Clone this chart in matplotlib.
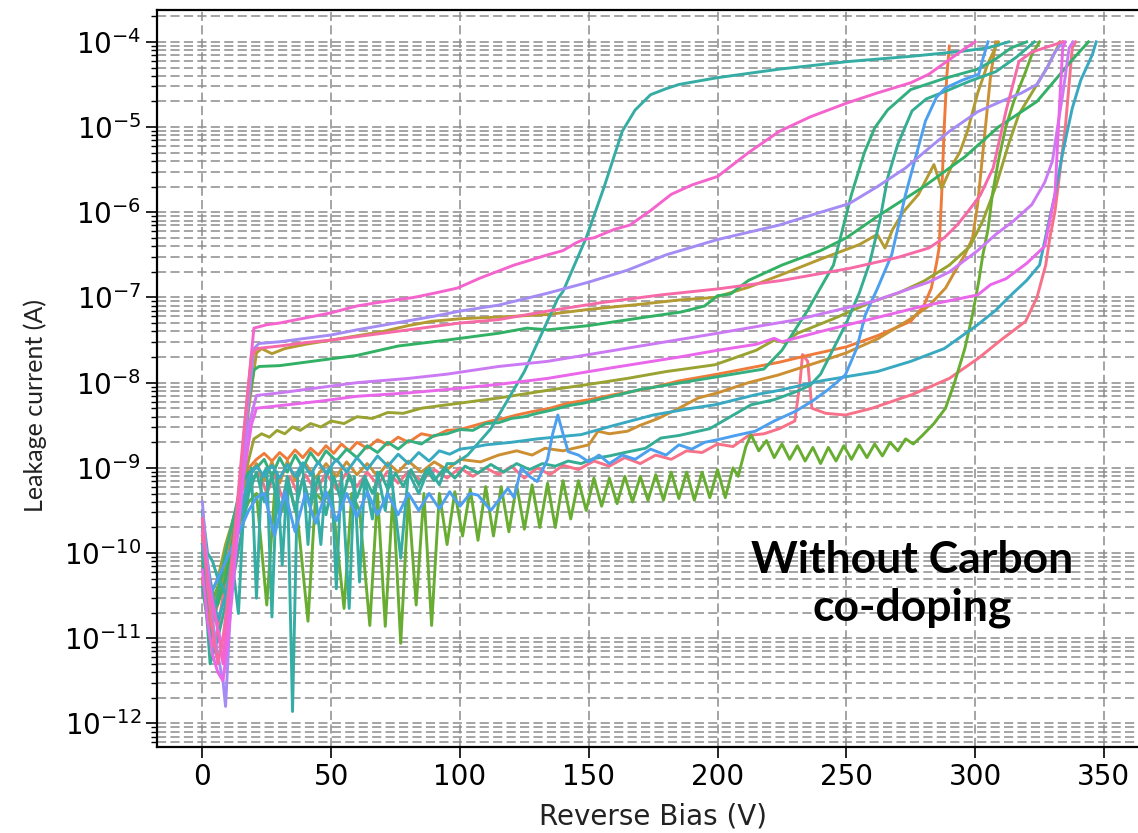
import numpy as np
import matplotlib
matplotlib.use("Agg")
import matplotlib.pyplot as plt
from matplotlib.ticker import LogLocator, NullFormatter, FixedLocator, LogFormatterSciNotation

# ---------------- data: reverse bias (V) and log10 of leakage current (A) ----------------
pinkred_V = [0, 2, 4, 6, 8, 10, 13, 16, 19, 22, 25, 28, 31, 34, 37, 40, 44, 48, 52, 56, 60, 64, 68, 72, 76, 80,
             85, 90, 95, 100, 105, 110, 115, 120, 125, 130, 135, 140, 146, 152, 158, 164, 170, 176, 182, 188,
             194, 200, 206, 212, 218, 224, 230, 232, 233, 235, 236.6, 242, 249.6, 260, 275.5, 290, 301.4, 310,
             319.6, 324, 327.4, 329, 331, 335, 337.7, 339]
pinkred_E = [-9.8, -10.6, -11.1, -10.9, -10.5, -10.2, -9.8, -9.4, -9.15, -9.05, -9.3, -9.08, -9.35, -9.1, -9.3,
             -9.08, -9.28, -9.06, -9.25, -9.05, -9.22, -9.05, -9.2, -9.04, -9.18, -9.04, -9.15, -9.02, -9.12, -9.0,
             -9.1, -9.0, -9.08, -8.98, -9.12, -9.0, -9.08, -8.97, -9.02, -8.92, -8.98, -8.88, -8.95, -8.85, -8.9,
             -8.8, -8.82, -8.72, -8.75, -8.62, -8.6, -8.54, -8.45, -8.0, -7.67, -7.75, -8.3, -8.36, -8.38, -8.3,
             -8.14, -7.95, -7.71, -7.5, -7.28, -7.0, -6.62, -6.3, -5.99, -5.01, -4.07, -4.0]

orange_V = [0, 3, 6, 9, 12, 15, 18, 21, 24, 27, 30, 33, 36, 39, 42, 45, 48, 51, 54, 57, 60, 64, 68, 72, 76, 80,
            85, 90, 95, 100, 106, 112, 117, 122, 128, 135, 142, 150, 160, 173, 185, 200, 212, 224, 235, 250, 262,
            275, 280, 283, 285, 286, 287, 288, 289, 290]
orange_E = [-10.3, -10.9, -10.6, -10.2, -9.7, -9.3, -9.0, -8.9, -8.83, -8.92, -8.82, -8.9, -8.79, -8.88, -8.77,
            -8.85, -8.74, -8.83, -8.72, -8.8, -8.7, -8.77, -8.67, -8.73, -8.64, -8.7, -8.6, -8.63, -8.56, -8.55,
            -8.5, -8.45, -8.42, -8.38, -8.34, -8.3, -8.24, -8.2, -8.14, -8.07, -7.98, -7.9, -7.83, -7.76, -7.68,
            -7.58, -7.45, -7.28, -7.1, -6.89, -6.6, -6.42, -5.8, -5.0, -4.4, -4.05]

gold_V = [0, 3, 6, 9, 12, 15, 18, 21, 24, 27, 30, 33, 36, 40, 44, 48, 52, 56, 60, 64, 68, 72, 76, 80, 85, 90,
          95, 100, 108, 115, 122, 128, 133, 140, 150, 153.6, 158, 165, 170, 177, 185, 192.5, 200, 212, 223.6,
          240, 250, 262.5, 275, 282, 288.5, 293, 296, 299, 301, 304, 306, 308]
gold_E = [-10.1, -10.8, -10.4, -10.0, -9.6, -9.3, -9.1, -8.95, -9.15, -8.93, -9.18, -8.92, -9.15, -8.95, -9.12,
          -8.95, -9.1, -8.93, -9.08, -8.95, -9.1, -8.94, -9.05, -8.92, -9.05, -8.93, -9.02, -8.9, -8.93, -8.85,
          -8.8, -8.85, -8.77, -8.8, -8.73, -8.57, -8.6, -8.57, -8.5, -8.42, -8.3, -8.18, -8.12, -8.0, -7.91,
          -7.75, -7.65, -7.48, -7.25, -7.1, -6.89, -6.65, -6.5, -6.3, -5.9, -5.0, -4.4, -4.0]

olive_V = [0, 3, 6, 9, 12, 15, 18, 21, 23, 27, 32, 40, 50, 60, 70, 80, 89, 100, 115, 134, 150, 170, 185, 199,
           212, 225, 240, 255, 262, 265, 268, 272, 278, 284, 287, 291, 294, 297, 301, 305, 309]
olive_E = [-9.8, -10.6, -10.5, -10.2, -9.8, -9.2, -8.3, -7.65, -7.6, -7.66, -7.6, -7.55, -7.5, -7.45, -7.4,
           -7.33, -7.28, -7.25, -7.23, -7.2, -7.14, -7.08, -7.03, -7.0, -6.88, -6.73, -6.55, -6.38, -6.26, -6.42,
           -6.2, -6.0, -5.79, -5.44, -5.72, -5.45, -5.3, -5.05, -4.6, -4.25, -4.0]

olivegreen_V = [0, 3, 6, 9, 12, 15, 18, 20, 23, 26, 29, 32, 35, 38, 42, 46, 50, 55, 60, 66, 72, 78, 85, 95, 105,
                115, 134, 150, 165, 180, 199, 215, 222, 226, 231, 245, 260, 270, 280, 290, 298, 303, 308, 313,
                317, 322, 328, 333]
olivegreen_E = [-10.0, -10.5, -10.3, -9.9, -9.6, -9.3, -8.9, -8.66, -8.6, -8.64, -8.56, -8.6, -8.52, -8.56,
                -8.48, -8.52, -8.45, -8.48, -8.4, -8.42, -8.35, -8.36, -8.3, -8.26, -8.22, -8.18, -8.09, -8.02,
                -7.95, -7.87, -7.79, -7.62, -7.5, -7.53, -7.42, -7.25, -7.05, -6.95, -6.81, -6.62, -6.4, -6.1,
                -5.7, -5.2, -4.85, -4.6, -4.3, -4.0]

greenlow_V = [0, 3, 6, 9, 12, 15, 18, 21, 25, 28, 31, 34, 37, 41, 44, 47, 50, 55, 58, 61, 65, 68, 71, 74, 77,
              80, 83, 86, 89, 92, 95, 98, 101, 104, 107, 110, 113, 116, 119, 122, 125, 128, 131, 134, 137, 140,
              143, 146, 149, 152, 155, 158, 161, 164, 167, 170, 173, 176, 179, 182, 185, 188, 191, 194, 197, 200,
              203, 206, 208, 211, 213, 216, 219, 222, 225, 228, 231, 234, 237, 240, 243, 246, 249, 252, 255, 258,
              261, 264, 267, 270, 273, 276, 279.5, 284, 288.5, 292, 296, 299, 301.4, 303, 305, 306.7, 309, 311.8,
              315, 319.6, 322, 325]
greenlow_E = [-9.9, -10.6, -10.4, -10.2, -9.9, -9.6, -9.4, -9.3, -10.61, -9.3, -9.5, -9.25, -9.6, -10.8, -9.3,
              -9.4, -9.25, -10.65, -9.3, -9.5, -10.85, -9.3, -10.86, -9.3, -11.06, -9.35, -10.61, -9.3, -10.85,
              -9.3, -9.9, -9.28, -9.8, -9.25, -9.85, -9.22, -9.8, -9.22, -9.75, -9.2, -9.72, -9.2, -9.7, -9.18,
              -9.7, -9.15, -9.6, -9.15, -9.5, -9.12, -9.45, -9.12, -9.42, -9.1, -9.4, -9.1, -9.38, -9.08, -9.38,
              -9.05, -9.36, -9.05, -9.38, -9.05, -9.35, -9.02, -9.35, -9.0, -9.1, -8.75, -8.61, -8.8, -8.68,
              -8.88, -8.72, -8.9, -8.74, -8.92, -8.76, -8.95, -8.76, -8.92, -8.74, -8.9, -8.73, -8.88, -8.72,
              -8.86, -8.7, -8.8, -8.66, -8.72, -8.62, -8.48, -8.3, -8.0, -7.6, -7.2, -6.81, -6.5, -6.2, -5.79,
              -5.4, -5.01, -4.7, -4.35, -4.15, -4.0]

green_V = [0, 3, 6, 9, 12, 15, 18, 20, 22, 30, 40, 50, 60, 76, 95, 115, 126, 134, 150, 170, 186, 195, 200, 205,
           212, 225, 240, 250, 262, 280, 296, 309, 324, 331, 338, 344]
green_E = [-9.9, -10.7, -10.6, -10.3, -9.8, -9.1, -8.2, -7.85, -7.81, -7.8, -7.76, -7.72, -7.68, -7.57, -7.5,
           -7.42, -7.36, -7.38, -7.33, -7.24, -7.17, -7.1, -6.98, -6.96, -6.8, -6.62, -6.45, -6.3, -6.05, -5.7,
           -5.35, -5.0, -4.7, -4.45, -4.2, -4.0]

tealgreenA_V = [0, 3, 6, 9, 12, 15, 18, 21, 24, 27, 30, 33, 36, 39, 42, 45, 48, 52, 56, 60, 64, 68, 72, 76, 80,
                85, 90, 95, 100, 105, 110, 115, 120, 125, 130, 136, 142, 148, 155, 162, 170, 180, 190, 200, 210,
                218, 225, 235, 245, 252, 257, 261, 266, 275, 288, 301, 308, 314, 320]
tealgreenA_E = [-10.4, -11.0, -10.5, -10.0, -9.6, -9.2, -9.05, -9.0, -8.9, -9.1, -8.88, -9.05, -8.85, -9.0,
                -8.82, -8.95, -8.8, -8.92, -8.78, -8.88, -8.74, -8.82, -8.7, -8.78, -8.68, -8.72, -8.62, -8.6,
                -8.55, -8.56, -8.48, -8.47, -8.42, -8.4, -8.36, -8.32, -8.27, -8.24, -8.19, -8.14, -8.08, -8.03,
                -7.98, -7.93, -7.88, -7.84, -7.62, -7.15, -6.62, -5.79, -5.3, -5.01, -4.8, -4.56, -4.43, -4.32,
                -4.2, -4.07, -4.0]

tealgreenB_V = [0, 3, 6, 9, 12, 15, 18, 21, 24, 27, 30, 33, 36, 39, 42, 45, 48, 51, 54, 57, 60, 63, 66, 69, 72,
                75, 78, 81, 84, 87, 90, 94, 98, 102, 107, 112, 117, 122, 127, 132, 137, 142, 147, 152, 158, 164,
                172, 178, 185, 197, 205, 213, 222, 231, 236, 240, 245, 250, 255, 259, 263, 266, 270, 275.5, 281,
                288.5, 298, 308, 316, 323]
tealgreenB_E = [-10.0, -11.3, -11.0, -10.6, -10.3, -9.8, -9.3, -9.05, -9.4, -9.08, -9.6, -9.1, -9.5, -9.12,
                -9.45, -9.1, -9.55, -9.1, -9.4, -9.08, -9.35, -9.1, -9.3, -9.05, -9.25, -9.06, -9.22, -9.02, -9.2,
                -9.02, -9.15, -9.0, -9.12, -8.98, -9.06, -8.96, -9.05, -8.95, -9.02, -8.95, -8.98, -8.92, -8.95,
                -8.89, -8.86, -8.82, -8.77, -8.65, -8.62, -8.54, -8.4, -8.26, -8.2, -8.1, -8.03, -7.9, -7.6, -7.3,
                -6.95, -6.6, -6.1, -5.6, -5.2, -4.81, -4.67, -4.58, -4.46, -4.35, -4.18, -4.0]

teal_V = [0, 2, 4, 6, 8, 10, 12, 14, 16, 18, 19, 21, 23, 25, 27, 29, 31, 33, 35, 37, 39, 41, 43, 46, 48, 50, 52,
          54, 57, 59, 61, 63, 66, 68, 71, 73, 77, 80, 84, 88, 92, 95, 98, 103, 112, 125, 138, 140, 149, 156, 163,
          168, 174, 180, 185, 200, 224, 251, 275, 295, 305, 313]
teal_E = [-9.5, -10.0, -10.1, -10.3, -10.4, -10.6, -10.2, -10.71, -9.5, -9.2, -9.0, -10.53, -9.1, -9.0, -10.75,
          -9.05, -10.14, -9.1, -11.86, -9.1, -9.0, -9.9, -9.05, -9.9, -9.1, -9.0, -10.42, -9.05, -10.65, -9.1,
          -10.34, -9.1, -9.6, -9.05, -9.5, -9.0, -10.06, -9.05, -9.3, -9.0, -9.2, -8.95, -8.95, -8.85, -8.54,
          -7.87, -7.01, -6.93, -6.3, -5.7, -5.05, -4.8, -4.62, -4.55, -4.5, -4.42, -4.32, -4.23, -4.17, -4.11,
          -4.07, -4.0]

cyan_V = [0, 3, 6, 9, 12, 15, 18, 21, 24, 27, 30, 33, 36, 39, 42, 45, 48, 52, 56, 60, 64, 68, 72, 76, 80, 84, 88,
          92, 96, 100, 105, 110, 120, 130, 140, 147, 160, 175, 190, 199, 215, 224, 240, 262, 275, 288, 301, 308,
          314, 320, 325, 328, 331, 334, 337.7, 341, 345.5, 347]
cyan_E = [-9.7, -10.3, -10.8, -10.5, -10.0, -9.5, -9.1, -8.98, -9.1, -8.97, -9.12, -8.96, -9.1, -8.94, -9.08,
          -8.93, -9.06, -8.9, -9.05, -8.88, -9.02, -8.86, -8.98, -8.84, -8.95, -8.82, -8.92, -8.8, -8.84, -8.78,
          -8.76, -8.73, -8.7, -8.66, -8.63, -8.61, -8.5, -8.38, -8.3, -8.26, -8.14, -8.09, -7.98, -7.87, -7.75,
          -7.6, -7.32, -7.15, -6.97, -6.8, -6.62, -6.2, -5.79, -5.3, -4.78, -4.45, -4.15, -4.0]

blue_V = [0, 3, 6, 9, 12, 15, 18, 21, 24, 28, 32, 36, 40, 44, 48, 52, 56, 60, 64, 68, 72, 76, 80, 84, 88, 92, 96,
          100, 104, 107, 112, 118.6, 121, 123.8, 127, 130, 134, 136, 138, 140, 142, 146, 150, 154, 158, 163, 168,
          174, 180, 185, 190, 195, 200, 207, 214.6, 222, 230, 236.6, 243, 249.6, 254, 257.4, 262, 267.6, 273,
          280.7, 285, 288.5, 295, 301.4, 303, 305]
blue_E = [-9.9, -10.5, -10.3, -10.1, -9.9, -9.7, -9.5, -9.35, -9.3, -9.8, -9.28, -9.75, -9.3, -9.65, -9.28, -9.62,
          -9.3, -9.58, -9.28, -9.55, -9.3, -9.55, -9.3, -9.5, -9.3, -9.48, -9.28, -9.45, -9.3, -9.32, -9.5, -9.24,
          -9.35, -9.0, -9.1, -9.16, -8.9, -8.6, -8.38, -8.6, -8.81, -8.85, -8.93, -8.85, -8.95, -8.85, -8.9,
          -8.78, -8.85, -8.73, -8.78, -8.7, -8.67, -8.62, -8.57, -8.45, -8.34, -8.22, -8.08, -7.91, -7.6, -7.2,
          -6.9, -6.5, -5.79, -4.93, -4.65, -4.54, -4.45, -4.38, -4.2, -4.0]

lavender_V = [0, 2, 4, 6, 8, 9, 11, 14, 17, 20, 22, 30, 40, 50, 60, 75, 90, 100, 115, 134, 150, 165, 180, 200,
              224, 240, 251, 262, 273, 282, 290, 301, 310, 318, 324, 328, 331, 334]
lavender_E = [-9.4, -10.2, -10.8, -11.2, -11.5, -11.8, -10.6, -9.6, -8.5, -7.6, -7.54, -7.52, -7.48, -7.44,
              -7.38, -7.3, -7.22, -7.16, -7.09, -6.95, -6.82, -6.68, -6.5, -6.32, -6.15, -6.0, -5.9, -5.7, -5.48,
              -5.25, -5.05, -4.82, -4.7, -4.6, -4.5, -4.3, -4.12, -4.0]

purple_V = [0, 3, 6, 9, 12, 15, 18, 21, 30, 45, 60, 80, 95, 115, 134, 160, 180, 200, 231, 260, 282, 290, 301,
            308, 315, 322, 327, 330, 332, 334, 336.5, 338]
purple_E = [-9.6, -10.4, -10.9, -11.2, -10.2, -9.3, -8.5, -8.15, -8.12, -8.06, -8.0, -7.95, -7.9, -7.81, -7.75,
            -7.62, -7.52, -7.42, -7.26, -7.05, -6.82, -6.7, -6.45, -6.26, -6.1, -5.91, -5.65, -5.4, -5.0, -4.62,
            -4.07, -4.0]

magenta_V = [0, 2, 4, 6, 8, 10, 13, 16, 19, 21, 30, 45, 60, 80, 95, 115, 134, 160, 185, 200, 215, 222, 225, 240,
             260, 280, 301, 306, 312, 320, 327, 329, 331, 332, 333, 334, 335]
magenta_E = [-10.2, -10.8, -11.2, -11.4, -11.5, -11.0, -10.0, -9.1, -8.5, -8.3, -8.27, -8.22, -8.16, -8.12,
             -8.08, -8.02, -7.95, -7.82, -7.7, -7.62, -7.55, -7.48, -7.52, -7.4, -7.25, -7.1, -6.97, -6.85, -6.78,
             -6.6, -6.4, -6.1, -5.79, -5.2, -4.62, -4.07, -4.0]

hotpink_V = [0, 2, 4, 6, 8, 10, 14, 17, 20, 25, 30, 40, 50, 60, 70, 82, 90, 99, 108, 121, 134, 140, 145, 148,
             152, 160, 166, 174, 182, 190, 200, 212, 224, 236, 250, 262, 275, 282, 289, 295, 300]
hotpink_E = [-9.75, -10.3, -10.6, -10.9, -11.3, -10.6, -9.4, -8.3, -7.36, -7.32, -7.3, -7.24, -7.18, -7.1, -7.05,
             -7.0, -6.95, -6.89, -6.77, -6.62, -6.5, -6.45, -6.36, -6.32, -6.3, -6.2, -6.15, -5.98, -5.79, -5.68,
             -5.58, -5.3, -5.05, -4.88, -4.72, -4.6, -4.48, -4.38, -4.23, -4.1, -4.0]

pink_V = [0, 2, 4, 6, 8, 10, 13, 16, 19, 21, 30, 40, 50, 65, 80, 100, 115, 134, 155, 178, 200, 225, 251, 270,
          282, 288, 293, 297, 302, 307, 312, 317, 322, 327, 334]
pink_E = [-9.6, -10.4, -10.9, -11.3, -11.0, -10.5, -9.6, -8.6, -7.7, -7.6, -7.57, -7.53, -7.5, -7.44, -7.38,
          -7.3, -7.26, -7.16, -7.06, -6.97, -6.9, -6.8, -6.66, -6.53, -6.42, -6.3, -6.15, -6.0, -5.8, -5.48,
          -4.81, -4.23, -4.12, -4.07, -4.0]

series = [
    (pinkred_V, pinkred_E, "#f77189"),
    (orange_V, orange_E, "#ef7b3b"),
    (gold_V, gold_E, "#cc8f32"),
    (olive_V, olive_E, "#b39b31"),
    (olivegreen_V, olivegreen_E, "#9aa331"),
    (greenlow_V, greenlow_E, "#68ad31"),
    (green_V, green_E, "#32b165"),
    (tealgreenA_V, tealgreenA_E, "#33af80"),
    (tealgreenB_V, tealgreenB_E, "#35ad95"),
    (teal_V, teal_E, "#36ada4"),
    (cyan_V, cyan_E, "#38a9c0"),
    (blue_V, blue_E, "#4d9ff0"),
    (lavender_V, lavender_E, "#a48cf4"),
    (purple_V, purple_E, "#cc7af4"),
    (magenta_V, magenta_E, "#ea66ea"),
    (hotpink_V, hotpink_E, "#f564cc"),
    (pink_V, pink_E, "#f66aa8"),
]

x_ticks = [0, 50, 100, 150, 200, 250, 300, 350]
y_decades = [1e-12, 1e-11, 1e-10, 1e-9, 1e-8, 1e-7, 1e-6, 1e-5, 1e-4]

# ---------------- figure ----------------
W, H = 1138, 833
fig = plt.figure(figsize=(W / 100, H / 100), dpi=100)
ax = fig.add_axes([157.3 / W, 1 - 747.3 / H, (1149 - 157.3) / W, (747.3 - 9.5) / H])

for v, e, c in series:
    ax.plot(v, 10.0 ** np.array(e), color=c, lw=2.1, solid_joinstyle="round")

ax.set_yscale("log")
ax.set_xlim(-17.5, 367.5)
ax.set_ylim(10 ** -12.28, 10 ** -3.62)

ax.xaxis.set_major_locator(FixedLocator(x_ticks))
ax.yaxis.set_major_locator(FixedLocator(y_decades))
ax.yaxis.set_major_formatter(LogFormatterSciNotation(base=10))
ax.yaxis.set_minor_locator(LogLocator(base=10, subs=np.arange(2, 10), numticks=300))
ax.yaxis.set_minor_formatter(NullFormatter())

grid_kw = dict(color="0.55", lw=1.1, linestyle=(0, (6, 2.8)))
ax.grid(True, which="major", axis="both", **grid_kw)
ax.grid(True, which="minor", axis="y", **grid_kw)
ax.set_axisbelow(True)

ax.tick_params(axis="both", which="major", labelsize=20, length=8, width=1.2, color="black")
ax.tick_params(axis="y", which="minor", length=4, width=1.0)
for s in ax.spines.values():
    s.set_linewidth(1.6)
    s.set_color("black")

ax.set_xlabel("Reverse Bias (V)", fontsize=20, color="#222222", labelpad=8)
fig.text(35 / W, 1 - 405 / H, "Leakage current (A)", rotation=90, ha="center", va="center",
         fontsize=18, family="Lato", color="#222222")

fig.text(912 / W, 1 - 584 / H, "Without Carbon\nco-doping", ha="center", va="center",
         fontsize=32, fontweight="bold", family="Lato", color="black", linespacing=1.25)

fig.savefig("out.png", dpi=100)
